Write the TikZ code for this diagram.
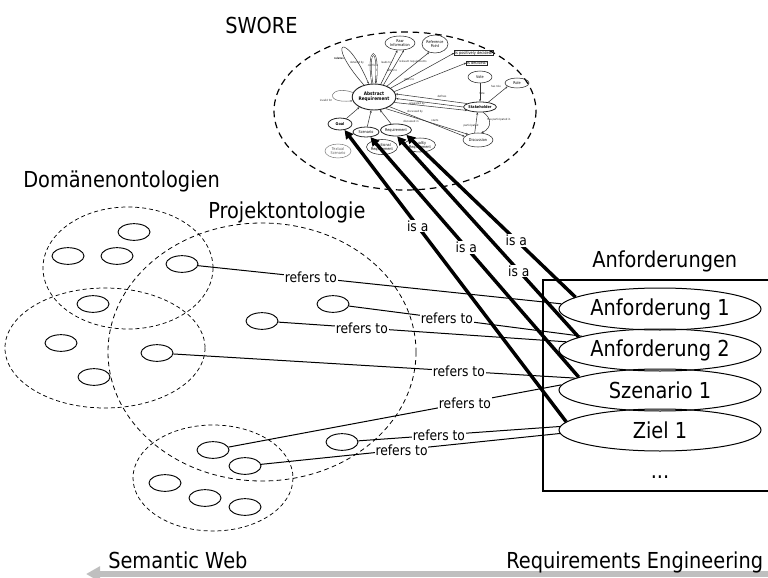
\documentclass[tikz,border=0pt]{standalone}
\usepackage{fontspec}
\setmainfont{DejaVu Sans}[FakeStretch=0.88]
\usetikzlibrary{shapes.geometric,arrows.meta}
\begin{document}
\begin{tikzpicture}[x=0.75pt,y=-0.75pt,
  big/.style={font=\fontsize{16.5}{19}\selectfont, inner sep=0pt},
  domell/.style={dash pattern=on 3pt off 2.2pt, line width=0.55pt},
  projell/.style={dash pattern=on 3.5pt off 2.6pt, line width=0.6pt},
  sworeell/.style={dash pattern=on 5pt off 3.5pt, line width=0.9pt},
  sell/.style={draw, ellipse, line width=0.7pt, minimum width=24pt, minimum height=12.5pt, inner sep=0pt},
  req/.style={draw, ellipse, line width=0.75pt, minimum width=151.5pt, minimum height=31.5pt, inner sep=0pt, font=\fontsize{16.5}{19}\selectfont},
  refl/.style={line width=0.75pt},
  rlab/.style={fill=white, inner sep=0.6pt, font=\fontsize{10.5}{12}\selectfont},
  isal/.style={line width=2.6pt, -{Triangle[length=6.5pt,width=6.5pt]}},
  isalab/.style={fill=white, inner sep=0.6pt, font=\fontsize{10.5}{12}\selectfont},
  sw/.style={draw=black!85, ellipse, line width=0.4pt, inner sep=0pt, align=center, font=\fontsize{2.9}{3.1}\selectfont},
  swbox/.style={draw=black!85, rectangle, line width=0.4pt, inner sep=0.5pt, font=\fontsize{3}{3.2}\selectfont},
  swe/.style={draw=black!80, line width=0.4pt, -{Stealth[length=1.8pt,width=1.5pt]}},
  swl/.style={font=\fontsize{2.1}{2.3}\selectfont, text=black!85, inner sep=0pt},
]
\useasboundingbox (0,0) rectangle (768,578);

% ---------- ontology regions ----------
\draw[domell] (128,268) ellipse [x radius=85, y radius=61];
\draw[domell] (105,348) ellipse [x radius=100, y radius=60];
\draw[projell] (262,352) ellipse [x radius=154, y radius=129];
\draw[domell] (213,478) ellipse [x radius=80, y radius=53];
\draw[sworeell] (405,111) ellipse [x radius=131, y radius=79];

% small concept ellipses
\node[sell] (d1) at (134,232) {};
\node[sell] (d2) at (68,256) {};
\node[sell] (d3) at (117,256) {};
\node[sell] (d4) at (93,304) {};
\node[sell] (d5) at (61,343) {};
\node[sell] (d6) at (94,377) {};
\node[sell] (p1) at (182,264) {};
\node[sell] (p2) at (333,304) {};
\node[sell] (p3) at (262,321) {};
\node[sell] (p4) at (157,353) {};
\node[sell] (p5) at (213,450) {};
\node[sell] (p6) at (342,442) {};
\node[sell] (p7) at (245,466) {};
\node[sell] (c1) at (165,483) {};
\node[sell] (c2) at (205,498) {};
\node[sell] (c3) at (245,507) {};

% ---------- SWORE mini diagram ----------
\node[sw, line width=0.7pt, minimum width=31.5pt, minimum height=19.5pt, font=\bfseries\fontsize{3.6}{4}\selectfont] (AR) at (374,97) {Abstract\\Requirement};
\node[sw, minimum width=22.5pt, minimum height=10.5pt] (RI) at (400,43) {Raw\\Information};
\node[sw, minimum width=19.5pt, minimum height=13.5pt] (RP) at (435,44) {Reference\\Point};
\node[swbox] (PD) at (474,53) {Is positively decided?};
\node[swbox] (ID) at (477,63) {Is decided?};
\node[sw, minimum width=18pt, minimum height=9pt] (VO) at (480,77) {Vote};
\node[sw, minimum width=18pt, minimum height=7.5pt] (RO) at (517,83) {Role};
\node[sw, line width=0.6pt, minimum width=24pt, minimum height=7.5pt, font=\bfseries\fontsize{2.9}{3.1}\selectfont] (SH) at (480,107) {Stakeholder};
\node[sw, minimum width=22.5pt, minimum height=10.5pt] (DI) at (478,140) {Discussion};
\node[sw, line width=0.6pt, minimum width=18pt, minimum height=9pt, font=\bfseries\fontsize{2.9}{3.1}\selectfont] (GO) at (340,124) {Goal};
\node[sw, line width=0.6pt, minimum width=19.5pt, minimum height=7.5pt] (SC) at (366,132) {Scenario};
\node[sw, line width=0.6pt, minimum width=22.5pt, minimum height=9pt] (RQ) at (396,130) {Requirement};
\node[sw, minimum width=22.5pt, minimum height=11.25pt] (FR) at (382,147) {Functional\\Requirement};
\node[sw, minimum width=22.5pt, minimum height=10.5pt] (QR) at (420,145) {Quality\\Requirement};
\node[sw, draw=black!50, text=black!65, minimum width=19.5pt, minimum height=10.5pt] (TS) at (338,151) {Textual\\Scenario};

\draw[swe] (AR.130) .. controls (324,40) and (346,30) .. (AR.112);
\draw[swe, double, double distance=0.5pt] (AR.97) .. controls (366,45) and (380,45) .. (AR.83);
\draw[swe, draw=black!55] (AR.168) .. controls (330,84) and (322,104) .. (AR.190);
\draw[swe] (AR.62) -- (RI.250);
\draw[swe] (AR.52) -- (RI.300);
\draw[swe] (AR.40) -- (RP.235);
\draw[swe] (AR.28) -- (PD.west);
\draw[swe] (AR.15) -- (ID.west);
\draw[swe] (SH.165) -- (AR.8);
\draw[swe] (SH.180) -- (AR.-4);
\draw[swe] (AR.-15) -- (SH.195);
\draw[swe] (AR.-32) -- (DI.165);
\draw[swe] (AR.-45) -- (DI.150);
\draw[swe] (VO) -- (SH);
\draw[swe] (SH.30) -- (RO.200);
\draw[swe] (DI.115) -- (SH.245);
\draw[swe] (SH.-60) .. controls (492,118) and (492,128) .. (DI.65);
\draw[swe] (GO) -- (AR.215);
\draw[swe] (SC) -- (AR.258);
\draw[swe] (RQ) -- (AR.295);

\node[swl, font=\bfseries\fontsize{2.1}{2.3}\selectfont] (l1) at (339,58) {relates};
\node[swl] (l2) at (357,63) {detailed by};
\node[swl] (l3) at (373,65) {conflicts};
\node[swl] (l4) at (386,62) {leads to};
\node[swl] (l5) at (392,70) {refers to};
\node[swl] (l6) at (413,62) {relevant requirements};
\node[swl] (l7) at (409,79) {refers to};
\node[swl] (l8) at (326,100) {invalid for};
\node[swl] (l9) at (442,96) {defines};
\node[swl] (l10) at (417,104) {answered by};
\node[swl] (l11) at (415,112) {discussed by};
\node[swl] (l12) at (411,121) {discussed in};
\node[swl] (l13) at (435,121) {starts};
\node[swl] (l14) at (482,93) {Vote};
\node[swl] (l15) at (496,86) {has role};
\node[swl] (l16) at (471,126) {participated};
\node[swl] (l17) at (499,120) {has participated in};

% ---------- requirements ----------
\draw[line width=1.5pt] (543,280) rectangle (772,491);
\node[req] (A1) at (660,309) {Anforderung 1};
\node[req] (A2) at (660,350) {Anforderung 2};
\node[req] (S1) at (660,390) {Szenario 1};
\node[req] (Z1) at (660,430) {Ziel 1};
\node[big, anchor=base] (dots) at (660,478) {...};

% ---------- refers to ----------
\draw[refl] (p1) -- node[rlab, pos=.31] {refers to} (A1.177);
\draw[refl] (p2) -- node[rlab, pos=.42] {refers to} (A2.170);
\draw[refl] (p3) -- node[rlab, pos=.29] {refers to} (A2.175);
\draw[refl] (p4) -- node[rlab, pos=.71] {refers to} (S1.172);
\draw[refl] (p5) -- node[rlab, pos=.71] {refers to} (S1.177);
\draw[refl] (p6) -- node[rlab, pos=.40] {refers to} (Z1.178);
\draw[refl] (p7) -- node[rlab, pos=.47] {refers to} (Z1.182);

% ---------- is a ----------
\draw[isal] (Z1.175) -- node[isalab, pos=.67] {is a} (GO);
\draw[isal] (S1.171) -- node[isalab, pos=.54] {is a} (SC);
\draw[isal] (A2.171) -- node[isalab, pos=.33] {is a} (RQ.-80);
\draw[isal] (A1.172) -- node[isalab, pos=.35] {is a} (RQ.-25);

% ---------- titles ----------
\node[big, anchor=base west] (tswore) at (225,33) {SWORE};
\node[big, anchor=base west] (tdom) at (23,187) {Domänenontologien};
\node[big, anchor=base west] (tproj) at (208,218) {Projektontologie};
\node[big, anchor=base west] (tanf) at (592,267) {Anforderungen};

% ---------- axis ----------
\coordinate (gr) at (775,574);
\coordinate (gl) at (86,574);
\draw[line width=4.5pt, draw=black!25, -{Triangle[length=10.5pt,width=11pt]}] (gr) -- (gl);
\node[big, anchor=base west] (tsw) at (108,568) {Semantic Web};
\node[big, anchor=base west] (tre) at (506,568) {Requirements Engineering};
\end{tikzpicture}
\end{document}
